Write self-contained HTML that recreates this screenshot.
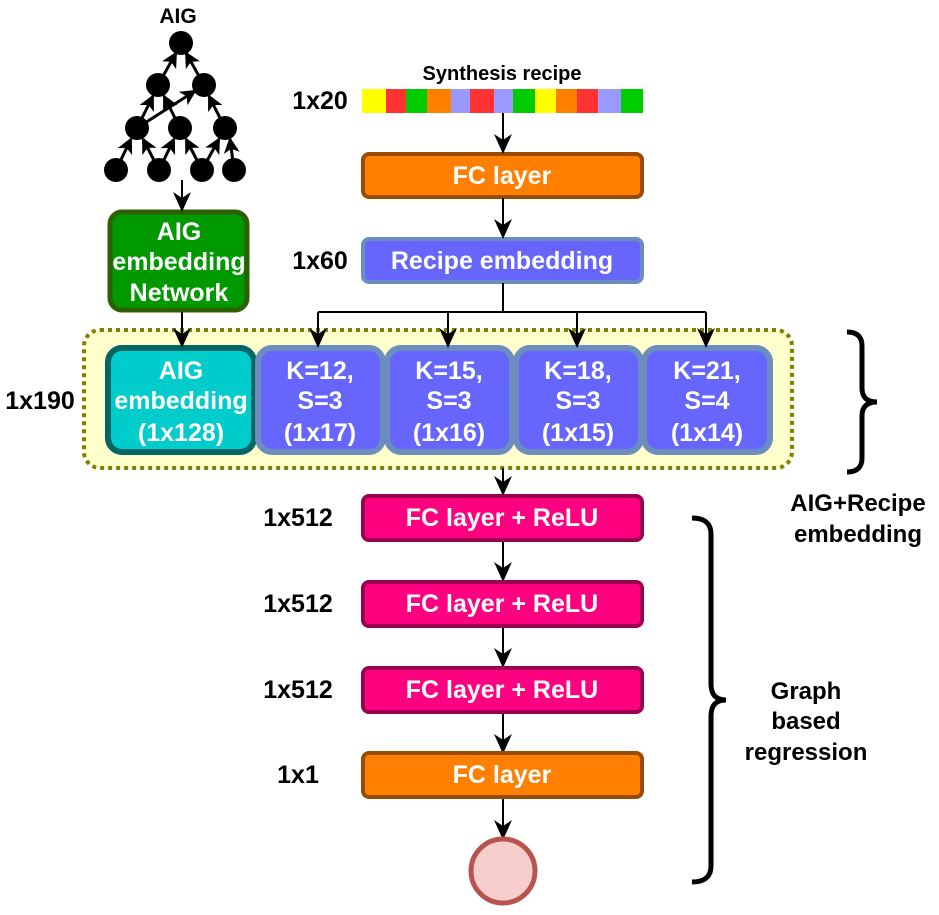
<!DOCTYPE html>
<html><head><meta charset="utf-8"><style>
html,body{margin:0;padding:0;background:#fff;}
svg{display:block;}
text{font-family:"Liberation Sans",Arial,sans-serif;font-weight:bold;}
</style></head><body>
<svg width="939" height="915" viewBox="0 0 939 915" xmlns="http://www.w3.org/2000/svg">
<defs>
<marker id="ah" markerWidth="16" markerHeight="16" refX="14" refY="8" orient="auto" markerUnits="userSpaceOnUse" viewBox="0 0 16 16">
<path d="M0,0 L16,8 L0,16 L4,8 z" fill="#000"/>
</marker>
<marker id="ah2" markerWidth="20" markerHeight="20" refX="18" refY="10" orient="auto" markerUnits="userSpaceOnUse" viewBox="0 0 20 20">
<path d="M0,1 L20,10 L0,19 L6,10 z" fill="#000"/>
</marker>
</defs>

<!-- AIG tree -->
<text x="178" y="23" font-size="21" text-anchor="middle">AIG</text>
<g stroke="#000" stroke-width="3" fill="none" marker-end="url(#ah)">
<line x1="158" y1="85" x2="176" y2="53"/>
<line x1="204" y1="85" x2="186" y2="53"/>
<line x1="137" y1="128" x2="153" y2="96"/>
<line x1="180" y1="128" x2="164" y2="96"/>
<line x1="137" y1="128" x2="195" y2="91"/>
<line x1="225" y1="128" x2="209" y2="96"/>
<line x1="116" y1="170" x2="131" y2="139"/>
<line x1="159" y1="170" x2="143" y2="139"/>
<line x1="159" y1="170" x2="174" y2="139"/>
<line x1="202" y1="170" x2="186" y2="139"/>
<line x1="202" y1="170" x2="219" y2="139"/>
<line x1="234" y1="170" x2="230" y2="139"/>
</g>
<g fill="#000">
<circle cx="181" cy="43" r="12"/>
<circle cx="158" cy="85" r="12"/><circle cx="204" cy="85" r="12"/>
<circle cx="137" cy="128" r="12"/><circle cx="180" cy="128" r="12"/><circle cx="225" cy="128" r="12"/>
<circle cx="116" cy="170" r="12"/><circle cx="159" cy="170" r="12"/><circle cx="202" cy="170" r="12"/><circle cx="234" cy="170" r="12"/>
</g>

<!-- recipe bar -->
<text x="502" y="80" font-size="20" text-anchor="middle">Synthesis recipe</text>
<text x="320" y="109" font-size="25" text-anchor="middle">1x20</text>
<g>
<rect x="362" y="89" width="24" height="24" fill="#FFFF00"/>
<rect x="386" y="89" width="20" height="24" fill="#FF3333"/>
<rect x="406" y="89" width="21" height="24" fill="#00CC00"/>
<rect x="427" y="89" width="24" height="24" fill="#FF8000"/>
<rect x="451" y="89" width="19" height="24" fill="#9999FF"/>
<rect x="470" y="89" width="24" height="24" fill="#FF3333"/>
<rect x="494" y="89" width="19" height="24" fill="#9999FF"/>
<rect x="513" y="89" width="22" height="24" fill="#00CC00"/>
<rect x="535" y="89" width="21" height="24" fill="#FFFF00"/>
<rect x="556" y="89" width="21" height="24" fill="#FF8000"/>
<rect x="577" y="89" width="21" height="24" fill="#FF3333"/>
<rect x="598" y="89" width="23" height="24" fill="#9999FF"/>
<rect x="621" y="89" width="22" height="24" fill="#00CC00"/>
</g>

<!-- FC layer top -->
<rect x="363" y="154" width="279" height="43" rx="6" fill="#FF8000" stroke="#994C00" stroke-width="4"/>
<text x="502" y="184" font-size="25" fill="#fff" text-anchor="middle">FC layer</text>

<!-- Recipe embedding -->
<text x="320" y="269" font-size="25" text-anchor="middle">1x60</text>
<rect x="363" y="239" width="279" height="43" rx="6" fill="#6666FF" stroke="#6C8EBF" stroke-width="4"/>
<text x="502" y="269" font-size="25" fill="#fff" text-anchor="middle">Recipe embedding</text>

<!-- AIG embedding network -->
<rect x="110" y="212" width="137" height="98" rx="12" fill="#009900" stroke="#2D6000" stroke-width="5"/>
<text x="179" y="240" font-size="25" fill="#fff" text-anchor="middle">AIG</text>
<text x="179" y="270" font-size="25" fill="#fff" text-anchor="middle">embedding</text>
<text x="179" y="301" font-size="25" fill="#fff" text-anchor="middle">Network</text>

<!-- container -->
<rect x="84" y="330" width="708" height="138" rx="16" fill="#FFFFCC" stroke="#808000" stroke-width="4" stroke-dasharray="4,4"/>
<text x="40" y="409" font-size="25" text-anchor="middle">1x190</text>

<rect x="108" y="348" width="146" height="104" rx="14" fill="#00CCCC" stroke="#006666" stroke-width="6"/>
<text x="181" y="379" font-size="25" fill="#fff" text-anchor="middle">AIG</text>
<text x="181" y="409" font-size="25" fill="#fff" text-anchor="middle">embedding</text>
<text x="181" y="441" font-size="25" fill="#fff" text-anchor="middle">(1x128)</text>

<g fill="#6666FF" stroke="#6C8EBF" stroke-width="6">
<rect x="258" y="348" width="125" height="104" rx="14"/>
<rect x="387" y="348" width="125" height="104" rx="14"/>
<rect x="516" y="348" width="125" height="104" rx="14"/>
<rect x="644" y="348" width="126" height="104" rx="14"/>
</g>
<g font-size="25" fill="#fff" text-anchor="middle">
<text x="320" y="379">K=12,</text><text x="320" y="409">S=3</text><text x="320" y="441">(1x17)</text>
<text x="449" y="379">K=15,</text><text x="449" y="409">S=3</text><text x="449" y="441">(1x16)</text>
<text x="578" y="379">K=18,</text><text x="578" y="409">S=3</text><text x="578" y="441">(1x15)</text>
<text x="707" y="379">K=21,</text><text x="707" y="409">S=4</text><text x="707" y="441">(1x14)</text>
</g>

<!-- arrows (main) -->
<g stroke="#000" stroke-width="2" fill="none" marker-end="url(#ah2)">
<line x1="182" y1="180" x2="182" y2="210"/>
<line x1="182" y1="312" x2="182" y2="346"/>
<line x1="503" y1="113" x2="503" y2="152"/>
<line x1="503" y1="198" x2="503" y2="237"/>
<line x1="318" y1="312" x2="318" y2="346"/>
<line x1="448" y1="312" x2="448" y2="346"/>
<line x1="577" y1="312" x2="577" y2="346"/>
<line x1="706" y1="312" x2="706" y2="346"/>
<line x1="503" y1="468" x2="503" y2="494"/>
<line x1="503" y1="541" x2="503" y2="580"/>
<line x1="503" y1="627" x2="503" y2="666"/>
<line x1="503" y1="713" x2="503" y2="752"/>
<line x1="503" y1="798" x2="503" y2="838"/>
</g>
<path d="M503,283 V312 M318,312 H706" stroke="#000" stroke-width="2" fill="none"/>

<!-- top brace -->
<path d="M847,332 Q862,332 862,346 V388 Q862,402 877,402 Q862,402 862,416 V458 Q862,472 847,472" stroke="#000" stroke-width="5" fill="none"/>
<text x="858" y="511" font-size="24" text-anchor="middle">AIG+Recipe</text>
<text x="858" y="542" font-size="24" text-anchor="middle">embedding</text>

<!-- regression stack -->
<g font-size="25" text-anchor="middle">
<text x="298" y="526">1x512</text>
<text x="298" y="612">1x512</text>
<text x="298" y="698">1x512</text>
<text x="298" y="783">1x1</text>
</g>
<g fill="#FF0080" stroke="#99004D" stroke-width="4">
<rect x="363" y="496" width="279" height="44" rx="6"/>
<rect x="363" y="582" width="279" height="44" rx="6"/>
<rect x="363" y="668" width="279" height="44" rx="6"/>
</g>
<g font-size="25" fill="#fff" text-anchor="middle">
<text x="502" y="526">FC layer + ReLU</text>
<text x="502" y="612">FC layer + ReLU</text>
<text x="502" y="698">FC layer + ReLU</text>
</g>
<rect x="363" y="753" width="279" height="44" rx="6" fill="#FF8000" stroke="#994C00" stroke-width="4"/>
<text x="502" y="783" font-size="25" fill="#fff" text-anchor="middle">FC layer</text>

<circle cx="503" cy="871" r="32" fill="#F8CECC" stroke="#B85450" stroke-width="5"/>

<!-- bottom brace -->
<path d="M692,518 Q711,518 711,534 V684 Q711,700 726,700 Q711,700 711,716 V866 Q711,882 692,882" stroke="#000" stroke-width="5" fill="none"/>
<g font-size="24" text-anchor="middle">
<text x="806" y="699">Graph</text>
<text x="806" y="729">based</text>
<text x="806" y="760">regression</text>
</g>
</svg>
</body></html>
